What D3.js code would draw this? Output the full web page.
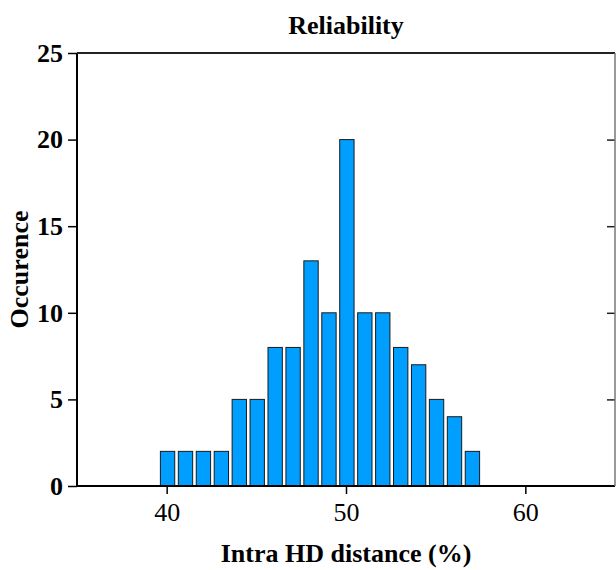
<!DOCTYPE html>
<html>
<head>
<meta charset="utf-8">
<script src="https://cdn.jsdelivr.net/npm/d3@7"></script>
<style>
  body { margin: 0; background: #fff; }
  svg { display: block; font-family: "Liberation Serif", "Times New Roman", serif; }
</style>
</head>
<body>
<div id="chart"></div>
<script>
// histogram bins (centre of each bar, %) and counts
var binCenters = [40, 41, 42, 43, 44, 45, 46, 47, 48, 49, 50, 51, 52, 53, 54, 55, 56, 57];
var counts = [2, 2, 2, 2, 5, 5, 8, 8, 13, 10, 20, 10, 10, 8, 7, 5, 4, 2];
var xTicks = [40, 50, 60];
var yTicks = [0, 5, 10, 15, 20, 25];

var W = 616, H = 570;
var margin = { top: 53, right: 1, bottom: 84, left: 77 };
var width = W - margin.left - margin.right;
var height = H - margin.top - margin.bottom;

var svg = d3.select("#chart")
    .append("svg")
    .attr("width", W)
    .attr("height", H);

var g = svg.append("g")
    .attr("transform", "translate(" + margin.left + "," + margin.top + ")");

var x = d3.scaleLinear().domain([35, 65]).range([0, width]);
var y = d3.scaleLinear().domain([0, 25]).range([height, 0]);

var barW = 0.8; // in data units

// bars
g.append("g")
    .selectAll("rect")
    .data(binCenters)
    .enter()
    .append("rect")
    .attr("x", function (d) { return x(d + 0.05 - barW / 2); })
    .attr("y", function (d, i) { return y(counts[i]); })
    .attr("width", x(35 + barW) - x(35))
    .attr("height", function (d, i) { return y(0) - y(counts[i]); })
    .style("fill", "#009fff")
    .style("stroke", "#1a1a1a")
    .style("stroke-width", 1);

// left axis
var yAxis = g.append("g")
    .call(d3.axisLeft(y).tickValues(yTicks).tickSize(9).tickPadding(5));
yAxis.select(".domain").remove();
yAxis.selectAll("line").attr("stroke", "#000").attr("stroke-width", 1.5);
yAxis.selectAll("text")
    .attr("fill", "#000")
    .style("font-size", "26px")
    .style("font-weight", "bold")
    .style("font-family", "Liberation Serif");

// right axis, ticks pointing inward
var yAxisR = g.append("g")
    .attr("transform", "translate(" + width + ",0)")
    .call(d3.axisLeft(y).tickValues([5, 10, 15, 20]).tickSize(8).tickFormat(""));
yAxisR.select(".domain").remove();
yAxisR.selectAll("line").attr("stroke", "#222").attr("stroke-width", 1.5);

// bottom axis
var xAxis = g.append("g")
    .attr("transform", "translate(0," + height + ")")
    .call(d3.axisBottom(x).tickValues(xTicks).tickSize(8).tickPadding(9));
xAxis.select(".domain").remove();
xAxis.selectAll("line").attr("stroke", "#000").attr("stroke-width", 1.5);
xAxis.selectAll("text")
    .attr("fill", "#000")
    .style("font-size", "26px")
    .style("font-family", "Liberation Serif");

// frame
g.append("line").attr("x1", 0).attr("x2", 0).attr("y1", 0).attr("y2", height)
    .attr("stroke", "#000").attr("stroke-width", 2);
g.append("line").attr("x1", 0).attr("x2", width).attr("y1", height).attr("y2", height)
    .attr("stroke", "#000").attr("stroke-width", 2);
g.append("line").attr("x1", 0).attr("x2", width).attr("y1", 0).attr("y2", 0)
    .attr("stroke", "#222").attr("stroke-width", 2);
g.append("line").attr("x1", width).attr("x2", width).attr("y1", 0).attr("y2", height)
    .attr("stroke", "#777").attr("stroke-width", 1.5);

// titles
svg.append("text")
    .attr("x", margin.left + width / 2)
    .attr("y", 34)
    .attr("text-anchor", "middle")
    .style("font-size", "26px")
    .style("font-weight", "bold")
    .text("Reliability");

svg.append("text")
    .attr("x", margin.left + width / 2)
    .attr("y", 562)
    .attr("text-anchor", "middle")
    .style("font-size", "26px")
    .style("font-weight", "bold")
    .text("Intra HD distance (%)");

svg.append("text")
    .attr("transform", "translate(28," + (margin.top + height / 2) + ") rotate(-90)")
    .attr("text-anchor", "middle")
    .style("font-size", "26px")
    .style("font-weight", "bold")
    .text("Occurence");
</script>
</body>
</html>
